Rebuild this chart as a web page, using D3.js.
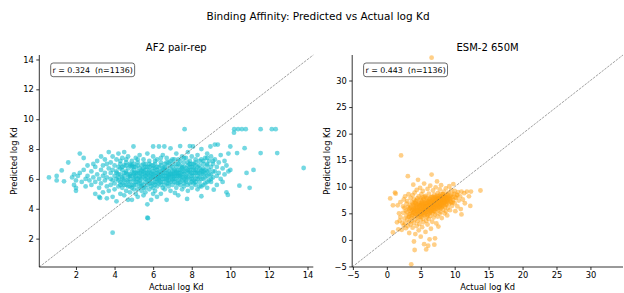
<!DOCTYPE html>
<html>
<head>
<meta charset="utf-8">
<script src="https://cdn.jsdelivr.net/npm/d3@7"></script>
<style>
  body { margin: 0; background: #fff; }
  text { font-family: "DejaVu Sans", sans-serif; fill: #000; }
</style>
</head>
<body>
<div id="chart"></div>
<script>
// values: [actual log Kd, predicted log Kd]
var af2Points = [
  [0.6,6.1],[1.0,6.2],[1.0,5.9],[1.26,6.57],[1.38,5.84],[1.6,7.1],[1.9,5.6],[1.8,6.1],
  [1.9,6.3],[2.0,5.2],[2.0,5.4],[2.0,5.9],[2.1,6.2],[2.2,7.7],[2.2,6.4],[2.3,5.8],[2.4,7.4],[2.4,6.6],[2.5,6.0],[2.5,5.5],[2.6,6.9],[2.6,6.2],[2.7,5.9],
  [2.8,6.5],[2.8,5.6],[2.9,7.0],[2.9,6.1],[3.0,5.0],[3.0,6.8],[3.0,5.8],[3.1,6.3],[3.1,7.2],[3.2,5.4],[3.2,6.0],[3.2,4.8],[3.3,6.6],[3.3,7.5],[3.3,5.7],[3.4,6.2],[3.4,5.1],[3.4,6.9],[3.5,7.3],[3.5,5.9],[3.5,6.4],[3.6,4.7],[3.6,5.5],[3.6,6.1],[3.6,7.0],[3.7,6.7],[3.7,5.2],[3.7,7.8],[3.8,6.0],[3.8,5.6],
  [3.8,6.4],[3.8,7.1],[3.9,4.8],[3.9,5.9],[3.9,6.6],[3.9,7.5],[4.0,5.3],[4.0,6.2],[4.0,6.9],[4.0,5.7],[4.1,7.3],[4.1,6.0],[4.1,4.5],[4.1,6.5],[4.2,5.5],[4.2,6.8],[4.2,7.7],[4.2,6.1],[4.3,5.0],[4.3,6.3],[4.3,7.0],[4.3,5.8],[4.4,6.6],[4.4,5.4],[4.4,7.4],[4.4,6.0],[4.5,4.9],[4.5,6.2],[4.5,6.9],[4.5,5.6],[4.5,7.8],
  [4.6,6.4],[4.6,5.2],[4.6,7.1],[4.6,5.9],[4.7,6.7],[4.7,6.1],[4.7,4.6],[4.7,5.5],[4.7,7.5],[4.8,6.3],[4.8,5.8],[4.8,6.9],[4.8,5.1],[4.8,6.0],[4.9,7.2],[4.9,6.5],[4.9,5.4],[4.9,6.2],[4.9,4.6],[5.0,5.9],[5.0,6.6],[5.0,7.0],[5.0,5.3],[5.0,6.3],[4.98,8.17],
  [5.1,6.1],[5.1,5.6],[5.1,6.8],[5.1,7.4],[5.1,5.0],[5.2,6.4],[5.2,5.8],[5.2,6.0],[5.2,7.1],[5.2,4.8],[5.3,6.7],[5.3,5.5],[5.3,6.2],[5.3,7.6],[5.3,5.9],[5.4,6.5],[5.4,5.2],[5.4,6.0],[5.4,6.9],[5.4,5.7],[5.5,6.3],[5.5,7.3],[5.5,5.4],[5.5,6.1],[5.5,4.9],
  [5.6,6.6],[5.6,5.8],[5.6,7.0],[5.6,6.0],[5.6,5.1],[5.7,6.4],[5.7,4.3],[5.7,5.6],[5.7,6.8],[5.7,7.7],[5.7,3.4],[5.8,6.2],[5.8,5.9],[5.8,7.2],[5.8,5.3],[5.8,6.5],[5.9,6.0],[5.9,6.9],[5.9,5.5],[5.9,4.6],[5.9,6.3],[6.0,6.7],[6.0,5.7],[6.0,6.1],[6.0,7.5],[6.0,8.17],[6.0,5.0],
  [6.1,6.4],[6.1,5.8],[6.1,7.0],[6.1,6.0],[6.1,5.2],[6.2,6.6],[6.2,6.2],[6.2,5.5],[6.2,7.3],[6.2,4.8],[6.3,6.0],[6.3,6.8],[6.3,5.9],[6.3,8.17],[6.3,6.3],[6.4,6.5],[6.4,5.6],[6.4,7.1],[6.4,6.1],[6.4,5.0],[6.5,6.7],[6.5,5.8],[6.5,6.2],[6.5,7.6],[6.5,5.4],
  [6.6,6.4],[6.6,6.0],[6.6,7.0],[6.6,5.3],[6.58,8.17],[6.7,6.6],[6.7,5.7],[6.7,6.2],[6.7,7.4],[6.7,4.6],[6.8,6.3],[6.8,5.9],[6.8,6.9],[6.8,5.5],[6.8,6.1],[6.9,6.7],[6.9,5.2],[6.9,6.4],[6.9,7.2],[6.9,8.05],[7.0,6.0],[7.0,6.5],[7.0,5.6],[7.0,7.0],[7.0,6.2],
  [7.1,6.6],[7.1,5.8],[7.1,7.3],[7.13,5.06],[7.1,6.3],[7.2,6.0],[7.2,6.8],[7.2,5.4],[7.2,6.5],[7.2,7.7],[7.3,6.2],[7.3,5.9],[7.3,7.0],[7.3,4.9],[7.3,6.6],[7.4,6.4],[7.4,5.6],[7.4,7.2],[7.4,8.2],[7.4,6.1],[7.5,6.8],[7.5,5.3],[7.5,6.3],[7.5,7.5],[7.5,5.9],
  [7.6,6.5],[7.63,9.33],[7.6,6.0],[7.6,7.1],[7.6,5.5],[7.7,6.7],[7.7,6.2],[7.76,4.66],[7.7,5.8],[7.7,7.4],[7.8,6.4],[7.8,6.9],[7.8,5.2],[7.8,6.1],[7.8,7.8],[7.9,6.6],[7.9,5.7],[7.9,7.2],[7.9,8.2],[7.9,6.3],[8.0,6.0],[8.0,6.8],[8.0,5.4],[8.0,7.5],[8.07,8.17],
  [8.1,6.2],[8.1,7.0],[8.1,5.9],[8.1,6.7],[8.2,6.4],[8.2,5.6],[8.2,7.3],[8.2,6.0],[8.3,6.8],[8.3,5.3],[8.3,6.5],[8.3,7.6],[8.4,6.1],[8.4,6.9],[8.4,5.8],[8.4,7.2],[8.5,6.6],[8.5,4.84],[8.5,6.3],[8.5,8.0],[8.5,5.5],
  [8.6,7.0],[8.6,6.0],[8.6,6.7],[8.7,6.4],[8.7,7.4],[8.7,5.7],[8.8,6.9],[8.8,6.2],[8.8,5.4],[8.8,7.7],[8.9,6.6],[8.9,7.2],[8.9,5.9],[8.97,8.17],[9.0,6.3],[9.0,7.5],[9.0,6.8],[9.0,5.8],
  [9.1,7.0],[9.1,6.1],[9.14,5.28],[9.2,6.5],[9.2,7.3],[9.2,8.3],[9.35,8.3],[9.3,6.2],[9.3,6.8],[9.3,5.6],[9.4,7.1],[9.4,6.4],[9.5,6.0],[9.5,7.6],[9.6,6.7],[9.6,5.8],[9.7,7.2],[9.7,6.3],[9.8,6.9],[9.8,5.1],[9.9,6.5],[9.87,4.93],[9.9,7.7],[10.0,8.17],[10.0,6.6],
  [4.2,6.3],[4.4,6.1],[4.6,6.5],[4.8,6.2],[5.0,6.0],[5.2,6.5],[5.4,6.3],[5.6,6.2],[5.8,6.6],[6.0,6.3],[6.2,6.0],[6.4,6.3],[6.6,6.7],[6.8,6.5],[7.0,6.3],[7.2,6.2],[7.4,6.6],[7.6,6.3],[7.8,6.6],[8.0,6.2],[8.2,6.6],[8.4,6.4],[8.6,6.3],[8.8,6.5],
  [4.3,5.6],[4.5,5.9],[4.7,5.8],[4.9,5.6],[5.1,5.8],[5.3,5.7],[5.5,5.6],[5.7,5.9],[5.9,5.7],[6.1,5.6],[6.3,5.7],[6.5,6.0],[6.7,5.9],[6.9,5.8],[7.1,6.0],[7.3,5.7],[7.5,6.1],[7.7,5.9],[7.9,6.0],[8.1,5.7],[8.3,6.0],[8.5,6.0],[8.7,6.1],
  [4.4,6.8],[4.6,6.9],[4.8,7.0],[5.0,6.8],[5.2,6.9],[5.4,6.6],[5.6,6.8],[5.8,7.0],[6.0,6.9],[6.2,6.8],[6.4,6.9],[6.6,6.8],[6.8,7.1],[7.0,6.8],[7.2,7.0],[7.4,6.9],[7.6,6.8],[7.8,7.1],[8.0,7.0],[8.2,6.9],[8.4,6.7],[8.6,7.2],[8.8,7.0],
  [5.1,6.4],[5.3,6.1],[5.5,6.7],[5.7,6.1],[5.9,6.4],[6.1,6.7],[6.3,6.5],[6.5,6.4],[6.7,6.0],[6.9,6.1],[7.1,6.5],[7.3,6.4],[7.5,6.5],[7.7,6.5],[7.9,6.8],[8.1,6.4],[8.3,6.2],
  [4.1,6.4],[4.3,6.7],[4.5,6.4],[4.7,6.3],[4.9,6.8],[5.1,6.2],[5.3,6.4],[5.5,6.5],[5.7,6.3],[5.9,6.1],[6.1,6.2],[6.3,6.1],[6.5,6.6],[6.7,6.4],[6.9,6.3],[7.1,6.2],[7.3,6.3],[7.5,6.7],[7.7,6.1],[7.9,6.5],[8.1,6.6],[8.3,6.4],[8.5,6.5],[8.7,6.6],[8.9,6.3],[9.1,6.5],
  [4.2,5.9],[4.4,5.7],[4.6,5.6],[4.8,5.5],[5.0,5.6],[5.2,5.3],[5.4,5.5],[5.6,5.4],[5.8,5.7],[6.0,5.4],[6.2,5.8],[6.4,5.8],[6.6,5.6],[6.8,5.7],[7.0,5.9],[7.2,5.7],[7.4,5.8],[7.6,5.7],[7.8,5.6],[8.0,5.8],[8.2,5.8],[8.4,5.5],[8.6,5.6],[8.8,5.8],[9.0,6.0],
  [4.3,7.2],[4.6,7.3],[4.9,6.9],[5.2,7.3],[5.5,7.0],[5.8,6.8],[6.1,7.2],[6.4,7.4],[6.7,7.1],[7.0,7.3],[7.3,7.3],[7.6,7.4],[7.9,7.0],[8.2,7.1],[8.5,7.3],[8.8,7.4],[9.1,7.2],
  [5.0,6.4],[5.6,6.4],[6.2,6.4],[6.8,6.2],[7.4,6.2],[8.0,6.4],[8.6,6.5],[6.0,6.5],[7.2,6.4],[6.6,6.2],
  [3.9,2.4],[5.73,3.37],[3.25,4.73],[10.19,9.1],[10.2,9.33],[10.4,9.33],[10.6,9.33],[10.8,9.33],[11.57,9.33],[12.15,9.33],[12.35,9.33],
  [10.74,8.06],[10.35,7.73],[11.57,7.73],[12.43,7.73],[13.8,6.73],[11.2,6.6],[10.84,6.4],[11.0,5.4],[10.47,5.55]
];

var esmPoints = [
  [0.5,7.8],[0.9,6.5],[0.9,1.4],[1.3,8.7],[1.2,8.9],[1.5,3.3],[1.6,6.5],[1.8,5.0],[1.9,3.6],[2.0,7.1],[2.1,15.9],[1.7,2.0],[2.0,4.3],[2.2,1.9],[2.4,6.3],
  [2.3,3.2],[2.4,5.1],[2.5,2.7],[2.5,7.6],[2.6,4.0],[2.6,6.0],[2.7,3.1],[2.7,8.2],[2.8,5.5],[2.8,2.2],[2.9,4.6],[2.9,6.8],[3.0,3.8],[3.0,7.3],[3.0,5.2],[3.1,12.0],[3.1,2.6],[3.1,6.1],[3.2,4.3],[3.2,8.6],[3.3,5.8],[3.3,3.4],[3.3,1.3],[3.4,6.6],[3.4,4.9],[3.5,7.9],[3.5,2.9],[3.5,5.4],
  [3.6,6.3],[3.6,4.1],[3.6,-4.6],[3.7,7.1],[3.7,3.6],[3.7,5.7],[3.8,8.4],[3.8,4.7],[3.8,2.3],[3.9,6.0],[3.9,5.1],[3.9,10.4],[4.0,7.6],[4.0,3.2],[4.0,6.5],[4.0,-0.3],[4.1,4.4],[4.1,-1.9],[4.1,5.5],[4.1,8.9],[4.2,6.9],[4.2,3.9],[4.2,1.1],[4.3,5.9],[4.3,7.3],[4.3,4.8],[4.4,2.6],[4.4,6.3],[4.4,9.4],[4.5,5.2],[4.5,7.8],[4.5,3.5],[4.6,6.7],[4.6,4.3],[4.6,11.3],[4.7,5.6],[4.7,8.2],[4.7,1.8],[4.8,6.1],[4.8,3.0],[4.8,7.0],[4.9,4.9],[4.9,9.8],[4.9,5.8],[5.0,6.6],[5.0,3.8],[5.0,7.5],[5.0,0.6],
  [5.1,5.3],[5.1,8.6],[5.1,4.4],[5.2,6.3],[5.2,7.2],[5.2,2.4],[5.3,5.7],[5.3,9.2],[5.3,4.0],[5.4,6.8],[5.4,3.3],[5.4,7.7],[5.5,5.0],[5.5,6.0],[5.5,-0.8],[5.5,10.6],[5.6,4.6],[5.6,7.4],[5.6,6.4],[5.7,5.5],[5.7,8.3],[5.7,1.5],[5.8,6.9],[5.8,3.6],[5.8,-1.8],[5.9,5.9],[5.9,7.9],[5.9,4.3],[6.0,6.2],[6.0,9.6],[6.0,2.9],[6.0,5.2],[6.1,7.1],[6.1,4.8],[6.1,-1.1],[6.2,6.6],[6.2,8.7],[6.2,3.9],[6.3,5.6],[6.3,7.6],[6.3,0.1],[6.4,6.0],[6.4,10.2],[6.4,4.5],[6.5,7.3],[6.5,5.3],[6.5,2.1],
  [6.6,12.3],[6.6,6.8],[6.6,8.1],[6.6,34.3],[6.7,5.0],[6.7,6.4],[6.7,3.4],[6.8,7.7],[6.8,5.8],[6.8,9.3],[6.9,6.1],[6.9,4.2],[6.9,7.0],[7.0,8.5],[7.0,5.5],[7.0,6.7],[7.0,-0.9],[7.1,0.3],[7.1,7.4],[7.1,4.8],[7.2,6.3],[7.2,9.9],[7.2,5.2],[7.3,8.0],[7.3,6.9],[7.3,3.1],[7.4,5.9],[7.4,7.6],[7.4,11.0],[7.5,6.5],[7.5,4.4],[7.5,8.8],[7.6,7.2],[7.6,5.6],[7.6,2.5],[7.7,6.2],[7.7,8.3],[7.8,7.0],[7.8,4.9],[7.8,9.5],[7.9,6.6],[7.9,5.3],[8.0,7.8],[8.0,6.0],[8.0,10.3],
  [8.1,7.3],[8.1,4.1],[8.2,8.6],[8.2,6.4],[8.3,5.7],[8.3,7.6],[8.4,9.1],[8.4,6.9],[8.5,5.0],[8.5,8.1],[8.6,7.1],[8.6,6.2],[8.7,9.7],[8.7,5.4],[8.8,7.9],[8.8,6.7],[8.9,8.4],[8.9,4.6],[9.0,7.4],[9.0,6.0],[9.1,8.9],[9.2,6.8],[9.2,10.1],[9.3,7.7],[9.3,5.6],[9.4,8.3],[9.5,7.0],[9.5,9.4],[9.6,6.4],[9.7,8.0],[9.8,7.5],[9.8,10.5],[9.9,8.7],[10.0,6.9],[10.0,9.2],
  [10.2,7.9],[10.3,8.5],[10.4,6.3],[10.5,9.0],[10.6,7.4],[10.8,8.2],[10.9,5.8],[11.0,9.1],[11.2,7.6],[11.4,8.8],[11.5,6.9],[11.8,9.1],[12.1,8.2],[12.3,6.4],[12.4,9.1],[13.8,9.3],[11.0,4.8],[10.1,5.4],
  [4.5,6.0],[4.8,5.4],[5.0,5.9],[5.2,6.8],[5.4,5.6],[5.6,6.2],[5.8,5.3],[6.0,7.0],[6.2,6.1],[6.4,6.8],[6.6,5.9],[6.8,6.5],[7.0,7.2],[7.2,6.7],[7.4,7.0],[7.6,7.8],[7.8,6.4],[8.0,7.2],[8.2,7.6],[8.4,7.4],[8.6,8.0],[8.8,7.3],[9.0,8.1],
  [4.6,5.0],[4.9,6.4],[5.1,6.9],[5.3,5.1],[5.5,7.0],[5.7,6.5],[5.9,6.7],[6.1,5.8],[6.3,6.4],[6.5,6.1],[6.7,7.4],[6.9,6.6],[7.1,6.2],[7.3,7.5],[7.5,7.4],[7.7,7.0],[7.9,7.4],[8.1,6.8],[8.3,8.2],[8.5,7.0],[8.7,7.5],[8.9,7.1],
  [5.0,4.7],[5.2,5.5],[5.4,6.2],[5.6,5.6],[5.8,6.3],[6.0,5.6],[6.2,7.3],[6.4,5.4],[6.6,6.5],[6.8,6.9],[7.0,6.0],[7.2,7.7],[7.4,6.4],[7.6,6.6],[7.8,8.0],[8.0,6.6],[8.2,7.1],[8.4,8.0],
  [3.8,5.6],[4.0,5.2],[4.2,6.1],[4.4,5.5],[4.7,6.8],[6.5,8.0],[7.1,8.1],[7.9,8.6],[9.1,7.6],[9.4,7.2],[9.7,7.1],[10.1,8.0],
  [4.0,5.8],[4.3,6.6],[4.5,4.6],[4.8,6.5],[5.1,5.9],[5.3,6.6],[5.5,5.4],[5.7,7.0],[5.9,6.2],[6.1,6.5],[6.3,7.0],[6.5,6.6],[6.7,5.8],[6.9,7.3],[7.1,6.9],[7.3,6.6],[7.5,7.9],[7.7,7.5],[7.9,7.1],[8.1,7.8],[8.3,7.3],[8.5,7.6],[8.7,7.9],[8.9,7.7],[9.2,7.9],[9.5,8.0],
  [4.2,4.9],[4.5,5.5],[4.8,4.3],[5.1,4.9],[5.4,4.7],[5.7,5.0],[6.0,4.6],[6.3,5.1],[6.6,5.4],[6.9,5.5],[7.2,5.9],[7.5,6.0],[7.8,6.1],[8.1,6.2],[8.4,6.5],[8.7,6.6],
  [5.0,7.8],[5.3,8.0],[5.6,8.1],[5.9,7.4],[6.2,7.8],[6.5,7.2],[6.8,8.1],[7.1,7.7],[7.4,8.3],[7.7,7.8],[8.0,8.2],[8.3,8.6],[8.6,8.4],[8.9,8.0],
  [3.4,6.0],[3.6,5.0],[3.9,6.8],[4.1,7.0],[4.4,7.5],[3.3,4.4],[3.7,4.5],[9.0,8.6],[9.6,8.6],[10.4,8.4]
];

var panelTitles = ["AF2 pair-rep", "ESM-2 650M"];
var panelColors = ["#17becf", "#ffa00f"];
var panelR = ["0.324", "0.443"];
var panelN = [1136, 1136];
var af2Ticks = [2, 4, 6, 8, 10, 12, 14];
var esmTicks = [-5, 0, 5, 10, 15, 20, 25, 30];

(function() {
  var width = 624, height = 293;
  var plotTop = 55, plotBottom = 267;

  var svg = d3.select("#chart").append("svg")
    .attr("width", width)
    .attr("height", height);

  svg.append("text")
    .attr("x", 318).attr("y", 20)
    .attr("text-anchor", "middle")
    .style("font-size", "10.5px")
    .text("Binding Affinity: Predicted vs Actual log Kd");

  var panels = [
    { pts: af2Points, ticks: af2Ticks, left: 39.3, right: 313.3, opacity: 0.6 },
    { pts: esmPoints, ticks: esmTicks, left: 352.2, right: 623, opacity: 0.5 }
  ];
  var fmt = d3.format("");

  panels.forEach(function(p, i) {
    var all = p.pts.map(function(d) { return d[0]; }).concat(p.pts.map(function(d) { return d[1]; }));
    var lo = d3.min(all) - 0.5, hi = d3.max(all) + 0.5;

    var x = d3.scaleLinear().domain([lo, hi]).range([p.left, p.right]);
    var y = d3.scaleLinear().domain([lo, hi]).range([plotBottom, plotTop]);

    var g = svg.append("g");

    g.selectAll(".dot")
      .data(p.pts)
      .enter().append("circle")
      .attr("class", "dot")
      .attr("cx", function(d) { return x(d[0]); })
      .attr("cy", function(d) { return y(d[1]); })
      .attr("r", 2.4)
      .attr("fill", panelColors[i])
      .attr("fill-opacity", p.opacity);

    // y = x reference line
    g.append("line")
      .attr("x1", x(lo)).attr("y1", y(lo))
      .attr("x2", x(hi)).attr("y2", y(hi))
      .attr("stroke", "#555")
      .attr("stroke-opacity", 0.8)
      .attr("stroke-width", 0.7)
      .attr("stroke-dasharray", "2.5,1.1");

    var xAxis = d3.axisBottom(x).tickValues(p.ticks).tickSize(3).tickPadding(2.5).tickFormat(fmt);
    var yAxis = d3.axisLeft(y).tickValues(p.ticks).tickSize(3).tickPadding(2.5).tickFormat(fmt);

    var gx = g.append("g").attr("transform", "translate(0," + plotBottom + ")").call(xAxis);
    var gy = g.append("g").attr("transform", "translate(" + p.left + ",0)").call(yAxis);
    [gx, gy].forEach(function(a) {
      a.select(".domain").attr("stroke", "#000").attr("stroke-width", 0.8);
      a.selectAll(".tick line").attr("stroke", "#000").attr("stroke-width", 0.8);
      a.selectAll(".tick text").style("font-size", "8.3px").style("font-family", "DejaVu Sans").attr("fill", "#000");
    });
    gy.select(".domain").attr("d", "M0," + plotBottom + "V" + plotTop);
    gx.select(".domain").attr("d", "M" + p.left + ",0H" + p.right);

    var cx = (p.left + p.right) / 2;
    g.append("text")
      .attr("x", cx).attr("y", 50.5)
      .attr("text-anchor", "middle")
      .style("font-size", "10px")
      .text(panelTitles[i]);

    g.append("text")
      .attr("x", cx).attr("y", 290)
      .attr("text-anchor", "middle")
      .style("font-size", "8.3px")
      .text("Actual log Kd");

    g.append("text")
      .attr("transform", "translate(" + (p.left - 22) + "," + ((plotTop + plotBottom) / 2) + ") rotate(-90)")
      .attr("text-anchor", "middle")
      .style("font-size", "8.3px")
      .text("Predicted log Kd");

    // correlation label box
    var box = g.append("rect");
    var lbl = g.append("text")
      .attr("x", p.left + 13.2).attr("y", 73.2)
      .style("font-size", "7.9px")
      .style("white-space", "pre")
      .text("r = " + panelR[i] + "  (n=" + panelN[i] + ")");
    var bb = lbl.node().getBBox();
    box.attr("x", bb.x - 1.8).attr("y", 63)
      .attr("width", bb.width + 3.6).attr("height", 13.7)
      .attr("rx", 2.5)
      .attr("fill", "#fff")
      .attr("stroke", "#444")
      .attr("stroke-width", 0.8);
  });
})();
</script>
</body>
</html>
